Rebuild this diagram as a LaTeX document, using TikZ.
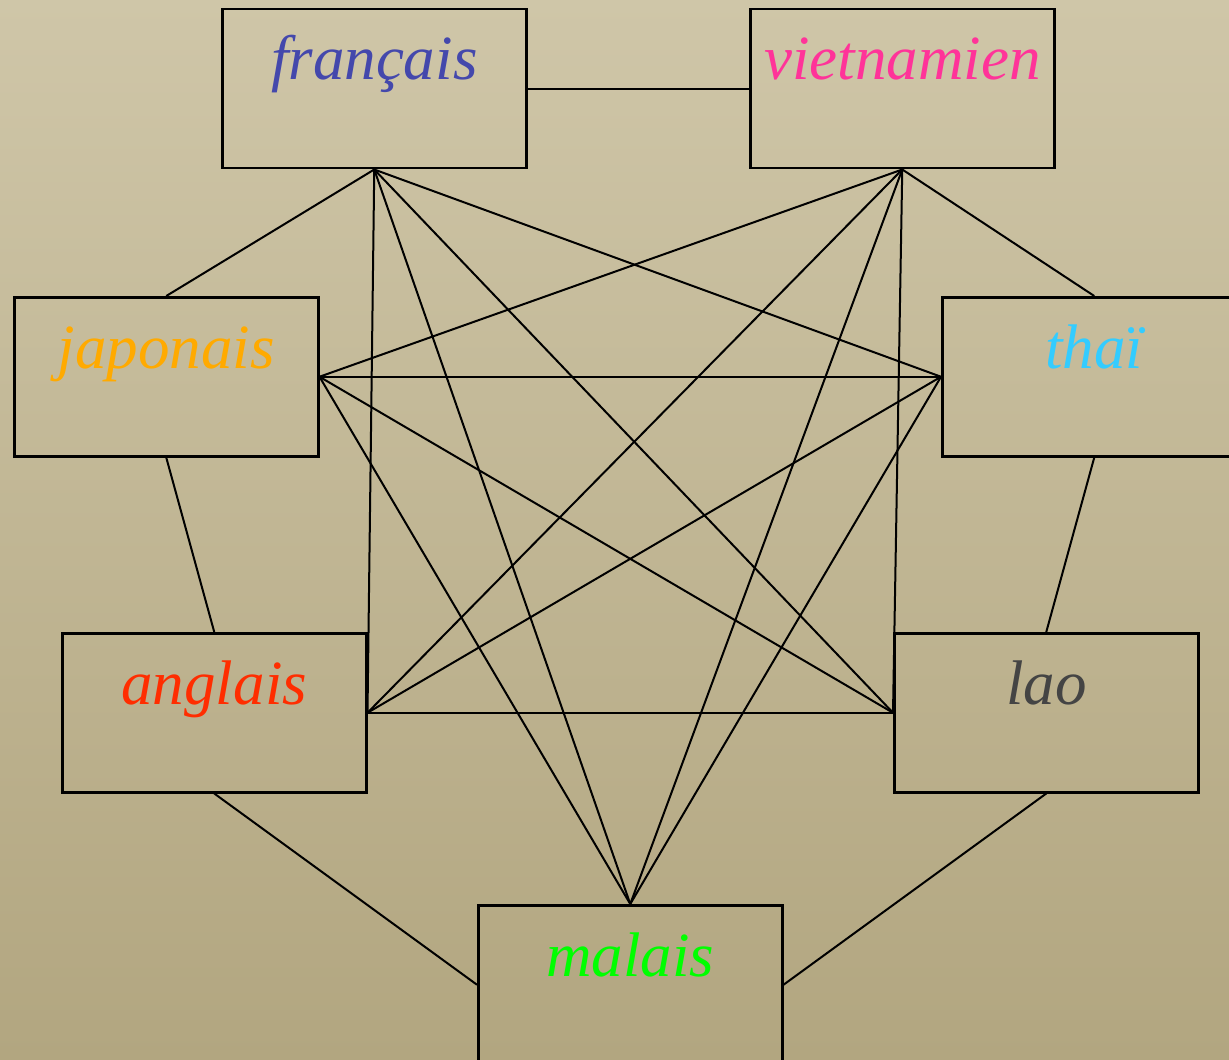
\documentclass[tikz,border=0pt]{standalone}
\usepackage{fontspec}
\setmainfont{Liberation Serif}
\definecolor{bgtop}{RGB}{207,198,168}
\definecolor{bgbot}{RGB}{178,166,128}
\definecolor{cfr}{RGB}{68,72,172}
\definecolor{cvi}{RGB}{255,51,153}
\definecolor{cja}{RGB}{255,170,0}
\definecolor{cth}{RGB}{51,204,255}
\definecolor{can}{RGB}{255,45,0}
\definecolor{cla}{RGB}{68,68,68}
\definecolor{cma}{RGB}{0,255,0}
\tikzset{
  langbox/.style={draw=black, line width=1.25pt, rectangle, inner sep=0pt,
    minimum width=152pt, minimum height=79.5pt, anchor=north west},
  langtxt/.style={anchor=base, inner sep=0pt,
    font=\fontsize{31.5pt}{36pt}\selectfont\itshape},
  link/.style={draw=black, line width=1pt}
}
\begin{document}
\begin{tikzpicture}[x=0.5pt,y=-0.5pt]
\useasboundingbox (0,0) rectangle (1229,1059);
\shade[top color=bgtop, bottom color=bgbot] (0,0) rectangle (1229,1059);
\begin{scope}
\clip (0,0) rectangle (1229,1059);
\node[langbox] (fr) at (221,8) {};
\node[langbox] (vi) at (749,8) {};
\node[langbox] (ja) at (13,296) {};
\node[langbox] (th) at (941,296) {};
\node[langbox] (an) at (61,632) {};
\node[langbox] (la) at (893,632) {};
\node[langbox] (ma) at (477,904) {};

\node[langtxt, text=cfr] (frt) at ([yshift=-36pt]fr.north) {français};
\node[langtxt, text=cvi] (vit) at ([yshift=-36pt]vi.north) {vietnamien};
\node[langtxt, text=cja] (jat) at ([yshift=-36pt]ja.north) {japonais};
\node[langtxt, text=cth] (tht) at ([yshift=-36pt]th.north) {thaï};
\node[langtxt, text=can] (ant) at ([yshift=-36pt]an.north) {anglais};
\node[langtxt, text=cla] (lat) at ([yshift=-36pt]la.north) {lao};
\node[langtxt, text=cma] (mat) at ([yshift=-36pt]ma.north) {malais};

% outer ring
\draw[link] (fr.east) -- (vi.west);
\draw[link] (fr.south) -- (ja.north);
\draw[link] (vi.south) -- (th.north);
\draw[link] (ja.south) -- (an.north);
\draw[link] (th.south) -- (la.north);
\draw[link] (an.south) -- (ma.west);
\draw[link] (la.south) -- (ma.east);
% from français
\draw[link] (fr.south) -- (th.west);
\draw[link] (fr.south) -- (an.east);
\draw[link] (fr.south) -- (la.west);
\draw[link] (fr.south) -- (ma.north);
% from vietnamien
\draw[link] (vi.south) -- (ja.east);
\draw[link] (vi.south) -- (an.east);
\draw[link] (vi.south) -- (la.west);
\draw[link] (vi.south) -- (ma.north);
% from japonais
\draw[link] (ja.east) -- (th.west);
\draw[link] (ja.east) -- (la.west);
\draw[link] (ja.east) -- (ma.north);
% from thaï
\draw[link] (th.west) -- (an.east);
\draw[link] (th.west) -- (ma.north);
% anglais - lao
\draw[link] (an.east) -- (la.west);
\end{scope}
\end{tikzpicture}
\end{document}
